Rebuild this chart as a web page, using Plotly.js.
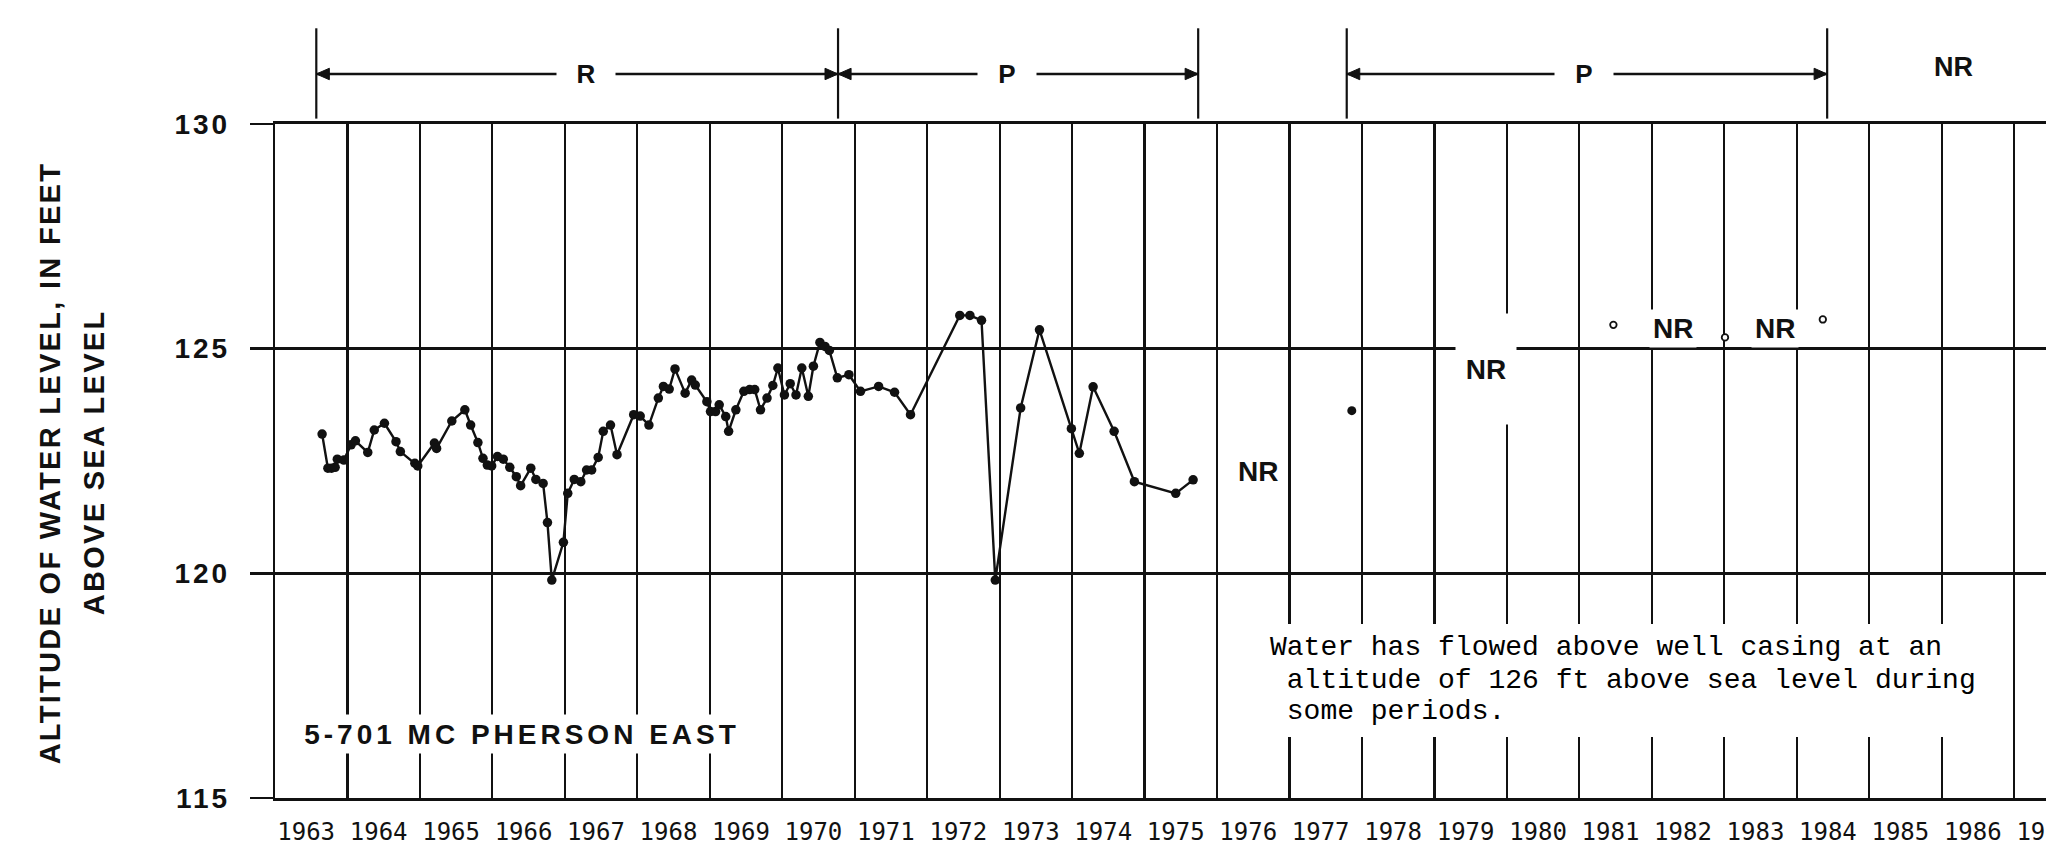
<!DOCTYPE html>
<html><head><meta charset="utf-8">
<script src="https://cdn.plot.ly/plotly-3.0.1.min.js"></script>
<style>
html,body{margin:0;padding:0;background:#fff;}
#chart{width:2046px;height:845px;}
.ytick text{letter-spacing:3px;}
</style>
</head><body><div id="chart"></div>
<script>
// ---- data ----
const years = [1963,1964,1965,1966,1967,1968,1969,1970,1971,1972,1973,1974,1975,1976,1977,1978,1979,1980,1981,1982,1983,1984,1985,1986,1987];
const yTicks = [115,120,125,130];

const levelDates = [1963.65,1963.73,1963.78,1963.83,1963.86,1963.95,1964.05,1964.11,1964.28,1964.37,1964.51,1964.67,1964.73,1964.93,1964.97,
  1965.20,1965.23,1965.44,1965.62,1965.70,1965.80,1965.87,1965.93,1965.99,1966.07,1966.15,1966.24,1966.33,1966.39,1966.53,1966.60,1966.70,
  1966.76,1966.82,1966.98,1967.04,1967.13,1967.22,1967.30,1967.37,1967.46,1967.53,1967.63,1967.72,1967.95,1968.04,1968.16,1968.29,1968.36,
  1968.44,1968.52,1968.66,1968.75,1968.80,1968.96,1969.01,1969.08,1969.13,1969.22,1969.26,1969.36,1969.47,1969.55,1969.62,1969.70,1969.79,
  1969.87,1969.94,1970.03,1970.11,1970.19,1970.27,1970.36,1970.43,1970.52,1970.59,1970.65,1970.76,1970.92,1971.08,1971.33,1971.55,1971.77,
  1972.45,1972.59,1972.75,1972.94,1973.29,1973.55,1973.99,1974.10,1974.29,1974.58,1974.86,1975.43,1975.67];
const levelValues = [123.10,122.34,122.34,122.36,122.54,122.52,122.86,122.95,122.69,123.19,123.34,122.93,122.71,122.45,122.39,
  122.90,122.78,123.39,123.64,123.30,122.91,122.56,122.41,122.39,122.60,122.54,122.36,122.15,121.95,122.34,122.09,122.00,
  121.13,119.85,120.69,121.78,122.09,122.04,122.30,122.30,122.58,123.16,123.30,122.64,123.53,123.50,123.30,123.90,124.16,
  124.10,124.55,124.01,124.30,124.19,123.82,123.60,123.60,123.75,123.49,123.16,123.64,124.05,124.09,124.09,123.64,123.90,
  124.18,124.57,123.97,124.22,123.97,124.57,123.94,124.61,125.14,125.05,124.96,124.35,124.42,124.05,124.16,124.03,123.53,
  125.74,125.74,125.63,119.85,123.68,125.42,123.22,122.67,124.15,123.16,122.04,121.78,122.08];

const soloDates = [1977.86];
const soloValues = [123.62];
const openDates = [1981.47,1983.01,1984.36];
const openValues = [125.53,125.25,125.65];

const nrDates = [1976.57,1979.71,1982.29,1983.70];
const nrValues = [122.26,124.55,125.45,125.45];
const nrTopDate = 1986.16;

const periodStarts = [1963.57,1970.77,1977.79];
const periodEnds = [1970.77,1975.74,1984.42];
const periodLabels = ['R','P','P'];
const periodLabelDates = [1967.29,1973.10,1981.07];

const stationName = '5-701 MC PHERSON EAST';
const noteLines = ['Water has flowed above well casing at an','\u00a0altitude of 126 ft above sea level during','\u00a0some periods.'];
const yTitleLines = ['ALTITUDE OF WATER LEVEL, IN FEET','ABOVE SEA LEVEL'];

// ---- drawing ----
const INK = '#111';
const BOLD = 'Liberation Sans, Arial, sans-serif';

const traces = [
  {x: levelDates, y: levelValues, mode: 'lines+markers', line: {color: INK, width: 2.4}, marker: {size: 9.5, color: INK}, hoverinfo: 'skip', cliponaxis: false},
  {x: soloDates, y: soloValues, mode: 'markers', marker: {size: 9, color: INK}, hoverinfo: 'skip'},
  {x: openDates, y: openValues, mode: 'markers', marker: {size: 6.5, color: '#fff', line: {color: INK, width: 1.8}}, hoverinfo: 'skip'}
];

const arrowY = 1.0742;
const shapes = [];
const bounds = [...new Set(periodStarts.concat(periodEnds))];
bounds.forEach(b => shapes.push({type: 'line', xref: 'x', yref: 'paper', x0: b, x1: b, y0: 1.008, y1: 1.142, line: {color: INK, width: 2.2}}));
const headL = 0.18, headH = 0.0085;
periodStarts.forEach((s, i) => {
  const e = periodEnds[i];
  shapes.push({type: 'line', xref: 'x', yref: 'paper', x0: s, x1: e, y0: arrowY, y1: arrowY, line: {color: INK, width: 2.6}});
  shapes.push({type: 'path', xref: 'x', yref: 'paper', path: `M ${s},${arrowY} L ${s + headL},${arrowY + headH} L ${s + headL},${arrowY - headH} Z`, fillcolor: INK, line: {color: INK, width: 1}});
  shapes.push({type: 'path', xref: 'x', yref: 'paper', path: `M ${e},${arrowY} L ${e - headL},${arrowY + headH} L ${e - headL},${arrowY - headH} Z`, fillcolor: INK, line: {color: INK, width: 1}});
});
// white panel behind the note (interrupts the grid as in the original)
shapes.push({type: 'rect', xref: 'paper', yref: 'paper', x0: 0.5573, x1: 0.9458, y0: 0.0905, y1: 0.258, fillcolor: '#fff', line: {width: 0}, layer: 'above'});

const annotations = [];
const spacing = {};
yTitleLines.forEach((t, i) => {
  spacing[annotations.length] = 2.3;
  annotations.push({text: t, xref: 'paper', yref: 'paper', x: i === 0 ? -0.1273 : -0.1022, y: 0.497, textangle: -90, showarrow: false,
    xanchor: 'center', yanchor: 'middle', font: {family: BOLD, size: 29, weight: 700, color: INK}});
});
spacing[annotations.length] = 4;
annotations.push({text: stationName, xref: 'paper', yref: 'paper', x: 0.0143, y: 0.095, xanchor: 'left', yanchor: 'middle', showarrow: false,
  width: 440, height: 36, bgcolor: '#fff', font: {family: BOLD, size: 28, weight: 700, color: INK}});
nrDates.forEach((d, i) => {
  const a = {text: 'NR', x: d, y: nrValues[i], xref: 'x', yref: 'y', xanchor: 'center', yanchor: 'middle', showarrow: false, bgcolor: '#fff', borderpad: 3,
    font: {family: BOLD, size: 28, weight: 700, color: INK}};
  if (i === 1) { a.width = 60; a.height = 110; a.borderpad = 0; }
  annotations.push(a);
});
annotations.push({text: 'NR', x: nrTopDate, y: arrowY + 0.01, xref: 'x', yref: 'paper', xanchor: 'center', yanchor: 'middle', showarrow: false,
  font: {family: BOLD, size: 27, weight: 700, color: INK}});
periodLabels.forEach((l, i) => {
  annotations.push({text: l, x: periodLabelDates[i], y: arrowY, xref: 'x', yref: 'paper', xanchor: 'center', yanchor: 'middle', showarrow: false,
    bgcolor: '#fff', width: 56, height: 30, font: {family: BOLD, size: 26, weight: 700, color: INK}});
});
const noteY = [0.224, 0.175, 0.1276];
noteLines.forEach((t, i) => {
  annotations.push({text: t, xref: 'paper', yref: 'paper', x: 0.5607, y: noteY[i], xanchor: 'left', yanchor: 'middle', showarrow: false,
    font: {family: 'Liberation Mono, Courier New, monospace', size: 28, color: '#000'}});
});

const css = Object.keys(spacing).map(i => `g.annotation[data-index="${i}"] text{letter-spacing:${spacing[i]}px;}`).join('\n');
const st = document.createElement('style'); st.textContent = css; document.head.appendChild(st);

const layout = {
  width: 2046, height: 845,
  margin: {l: 275, r: 0, t: 124, b: 47},
  paper_bgcolor: '#fff', plot_bgcolor: '#fff',
  showlegend: false,
  xaxis: {
    range: [1963, 1987.44], tickmode: 'array', tickvals: years.map(y => y + 0.43), ticktext: years.map(String),
    ticks: '', showgrid: false, zeroline: false, showline: true, mirror: true, linecolor: INK, linewidth: 2.7,
    tickfont: {family: 'DejaVu Sans Mono, monospace', size: 24, color: INK}, ticklabelstandoff: 10, ticklabeloverflow: 'allow',
    minor: {tickmode: 'array', tickvals: years, showgrid: true, gridcolor: INK, gridwidth: 2.2, ticks: ''}
  },
  yaxis: {
    range: [115, 130], tickmode: 'array', tickvals: yTicks, ticktext: yTicks.map(String),
    ticks: 'outside', ticklen: 23, tickwidth: 2.7, tickcolor: INK,
    showgrid: true, gridcolor: INK, gridwidth: 2.7, zeroline: false, showline: true, linecolor: INK, linewidth: 2.2,
    tickfont: {family: BOLD, size: 28, weight: 700, color: INK}, ticklabelstandoff: 14
  },
  shapes: shapes,
  annotations: annotations
};

Plotly.newPlot('chart', traces, layout, {staticPlot: true, displayModeBar: false});
</script>
</body></html>
